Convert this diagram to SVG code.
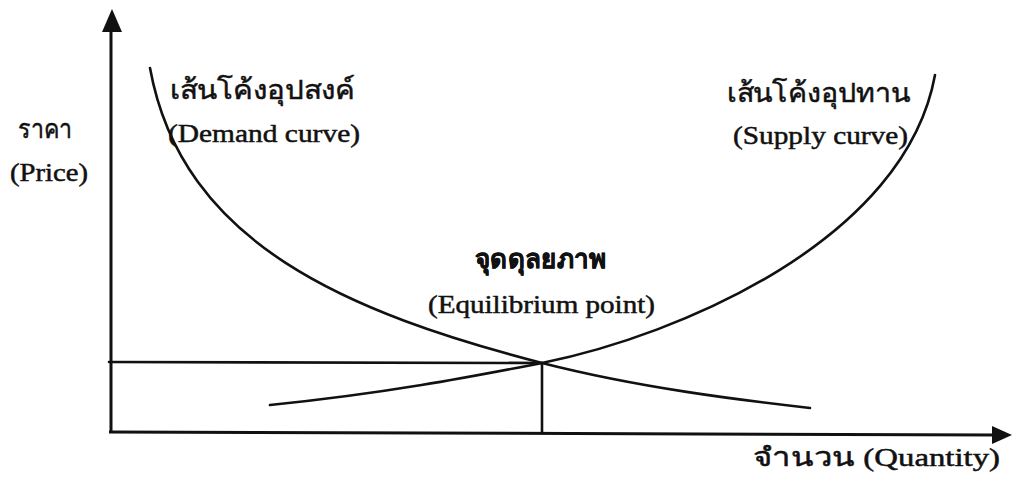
<svg xmlns="http://www.w3.org/2000/svg" width="1013" height="478" viewBox="0 0 1013 478">
<style>
.ln{fill:none;stroke:#111;stroke-width:2.6;stroke-linecap:round}
.ax{fill:none;stroke:#111;stroke-width:3}
.ah{fill:#111}
.t{font-family:"Liberation Serif","DejaVu Serif","Noto Sans",serif;fill:#111;stroke:#111;stroke-width:0.5;font-size:26px}
.th{font-family:"Liberation Serif","DejaVu Serif","Noto Sans",serif;fill:#111;stroke:#111;stroke-width:0.5;font-size:27px}
</style>
<rect width="1013" height="478" fill="#fff"/>
<g id="axes">
<line class="ax" x1="111" y1="28" x2="111" y2="433"/>
<polygon class="ah" points="112,9 102,32 122,32"/>
<line class="ax" x1="109" y1="432" x2="996" y2="435"/>
<polygon class="ah" points="1012,435 992,426 992,444"/>
</g>
<g id="connectors">
<path id="demand" class="ln" d="M150,68 C182,245 350,313 542,363 C640,388 740,400 810,408"/>
<path id="supply" class="ln" d="M270,405 C390,393 480,375 542,363 C680,335 905,240 935,75"/>
<line class="ln" x1="109" y1="362" x2="542" y2="363"/>
<line class="ln" x1="542" y1="363" x2="542" y2="433"/>
</g>
<g id="price-label">
<text class="th" x="18" y="138" textLength="54" lengthAdjust="spacingAndGlyphs">ราคา</text>
<text class="t" x="10" y="181" textLength="78" lengthAdjust="spacingAndGlyphs">(Price)</text>
</g>
<g id="demand-label">
<text class="th" x="170" y="99" textLength="185" lengthAdjust="spacingAndGlyphs">เส้นโค้งอุปสงค์</text>
<text class="t" x="168" y="142" textLength="192" lengthAdjust="spacingAndGlyphs">(Demand curve)</text>
</g>
<g id="supply-label">
<text class="th" x="727" y="102" textLength="183" lengthAdjust="spacingAndGlyphs">เส้นโค้งอุปทาน</text>
<text class="t" x="733" y="144" textLength="175" lengthAdjust="spacingAndGlyphs">(Supply curve)</text>
</g>
<g id="equilibrium-label">
<text class="th" x="475" y="268" font-weight="bold" textLength="131" lengthAdjust="spacingAndGlyphs">จุดดุลยภาพ</text>
<text class="t" x="428" y="313" textLength="227" lengthAdjust="spacingAndGlyphs">(Equilibrium point)</text>
</g>
<g id="quantity-label">
<text class="t" x="753" y="466" textLength="247" lengthAdjust="spacingAndGlyphs">จำนวน  (Quantity)</text>
</g>
</svg>
